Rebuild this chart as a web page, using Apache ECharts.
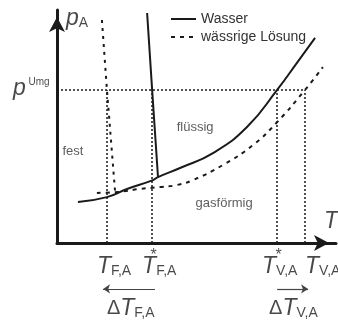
<!DOCTYPE html>
<html>
<head>
<meta charset="utf-8">
<script src="https://cdn.jsdelivr.net/npm/echarts@6/dist/echarts.min.js"></script>
<style>
  html, body { margin: 0; padding: 0; background: #fff; }
  #chart { width: 338px; height: 322px; }
</style>
</head>
<body>
<div id="chart"></div>
<script>
// T and p in arbitrary units (0..100)
const waterCurve = [[7.5, 17.6], [17.9, 19.7], [25.1, 23.2], [34.4, 27.0], [36.2, 28.3], [44.1, 32.2],
  [55.9, 38.6], [68.1, 49.8], [78.9, 65.7], [86.0, 77.3], [92.5, 88.0]];
const waterMelt = [[32.3, 98.7], [34.1, 65.7], [36.2, 28.3]];
const solutionCurve = [[14.3, 21.5], [21.9, 21.9], [29.7, 23.2], [36.9, 24.0], [43.0, 24.9], [48.7, 27.0],
  [59.5, 33.5], [70.3, 42.1], [78.9, 51.9], [88.9, 65.7], [95.3, 75.5]];
const solutionMelt = [[16.1, 95.7], [17.9, 65.7], [20.8, 22.3]];

const pUmg = 65.7;
const markNames = ['T_F,A', 'T*_F,A', 'T*_V,A', 'T_V,A'];
const markT = [17.9, 34.1, 78.9, 88.9];

const seriesNames = ['Wasser', 'wässrige Lösung'];

const FONT = '"Liberation Sans", Arial, sans-serif';
const ink = '#1a1a1a';

const chart = echarts.init(document.getElementById('chart'), null, { renderer: 'canvas' });

// dotted helper lines
const guides = markT.map(t => ({ coords: [[t, 0], [t, pUmg]] }));
guides.push({ coords: [[0, pUmg], [markT[3], pUmg]] });

// delta arrows under the axis
const arrows = [
  { coords: [[35.1, -19.7], [16.5, -19.7]] },
  { coords: [[markT[2], -19.7], [90.0, -19.7]] }
];

const rich = {
  i: { fontFamily: FONT, fontStyle: 'italic', fontSize: 23, color: ink },
  sub: { fontFamily: FONT, fontSize: 14, color: ink, verticalAlign: 'bottom' },
  sup: { fontFamily: FONT, fontSize: 10, color: ink, verticalAlign: 'top' },
  d: { fontFamily: FONT, fontSize: 20, color: ink },
  star: { fontFamily: FONT, fontSize: 16, color: ink },
  txt: { fontFamily: FONT, fontSize: 13, color: '#333' }
};

function lbl(value, text, pos) {
  return {
    value: value,
    label: { show: true, formatter: text, position: pos || 'right', distance: 0, rich: rich }
  };
}

const labels = [
  lbl([3.2, 96.1], '{i|p}{sub|A}'),
  lbl([-15.8, 66.1], '{i|p}{sup| Umg}'),
  lbl([5.7, 39.1], '{txt|fest}', 'inside'),
  lbl([49.5, 49.4], '{txt|flüssig}', 'inside'),
  lbl([59.9, 17.2], '{txt|gasförmig}', 'inside'),
  lbl([98.2, 9.0], '{i|T}', 'inside'),
  lbl([14.3, -10.3], '{i|T}{sub|F,A}'),
  lbl([30.5, -10.3], '{i|T}{sub|F,A}'),
  lbl([73.5, -10.3], '{i|T}{sub|V,A}'),
  lbl([88.9, -10.3], '{i|T}{sub|V,A}'),
  lbl([34.6, -5.4], '{star|*}', 'inside'),
  lbl([79.4, -5.4], '{star|*}', 'inside'),
  lbl([17.9, -28.3], '{d|Δ}{i|T}{sub|F,A}'),
  lbl([76.0, -28.3], '{d|Δ}{i|T}{sub|V,A}')
];

const option = {
  animation: false,
  grid: { left: 57, top: 10, width: 279, height: 233 },
  legend: {
    data: seriesNames,
    orient: 'vertical',
    left: 165,
    top: 7,
    itemWidth: 25,
    itemHeight: 10,
    itemGap: 4,
    itemStyle: { opacity: 0 },
    textStyle: { fontFamily: FONT, fontSize: 14, color: '#333' }
  },
  xAxis: {
    type: 'value', min: 0, max: 100,
    axisLine: { lineStyle: { color: ink, width: 3 }, symbol: ['none', 'arrow'], symbolSize: [12, 15], symbolOffset: [0, -7] },
    axisTick: { show: false }, axisLabel: { show: false }, splitLine: { show: false }
  },
  yAxis: {
    type: 'value', min: 0, max: 100,
    axisLine: { show: true, lineStyle: { color: ink, width: 3 }, symbol: ['none', 'arrow'], symbolSize: [12, 15], symbolOffset: [0, -7] },
    axisTick: { show: false }, axisLabel: { show: false }, splitLine: { show: false }
  },
  series: [
    {
      name: seriesNames[0], type: 'line', data: waterCurve, smooth: true, symbol: 'none',
      lineStyle: { color: ink, width: 2 }, itemStyle: { color: ink }
    },
    {
      name: seriesNames[0], type: 'line', data: waterMelt, symbol: 'none',
      lineStyle: { color: ink, width: 2 }, itemStyle: { color: ink }
    },
    {
      name: seriesNames[1], type: 'line', data: solutionCurve, smooth: true, symbol: 'none',
      lineStyle: { color: ink, width: 2, type: [4, 5] }, itemStyle: { color: ink }
    },
    {
      name: seriesNames[1], type: 'line', data: solutionMelt, symbol: 'none',
      lineStyle: { color: ink, width: 2, type: [3, 5] }, itemStyle: { color: ink }
    },
    {
      type: 'lines', coordinateSystem: 'cartesian2d', silent: true, clip: false,
      data: guides, symbol: 'none',
      lineStyle: { color: ink, width: 1.5, type: [2, 2], opacity: 1 }
    },
    {
      type: 'lines', coordinateSystem: 'cartesian2d', silent: true, clip: false,
      data: arrows, symbol: ['none', 'arrow'], symbolSize: 7,
      lineStyle: { color: '#444', width: 1.2, opacity: 1 }
    },
    {
      type: 'scatter', data: labels, symbolSize: 0, clip: false, silent: true
    }
  ]
};

chart.setOption(option);
</script>
</body>
</html>
